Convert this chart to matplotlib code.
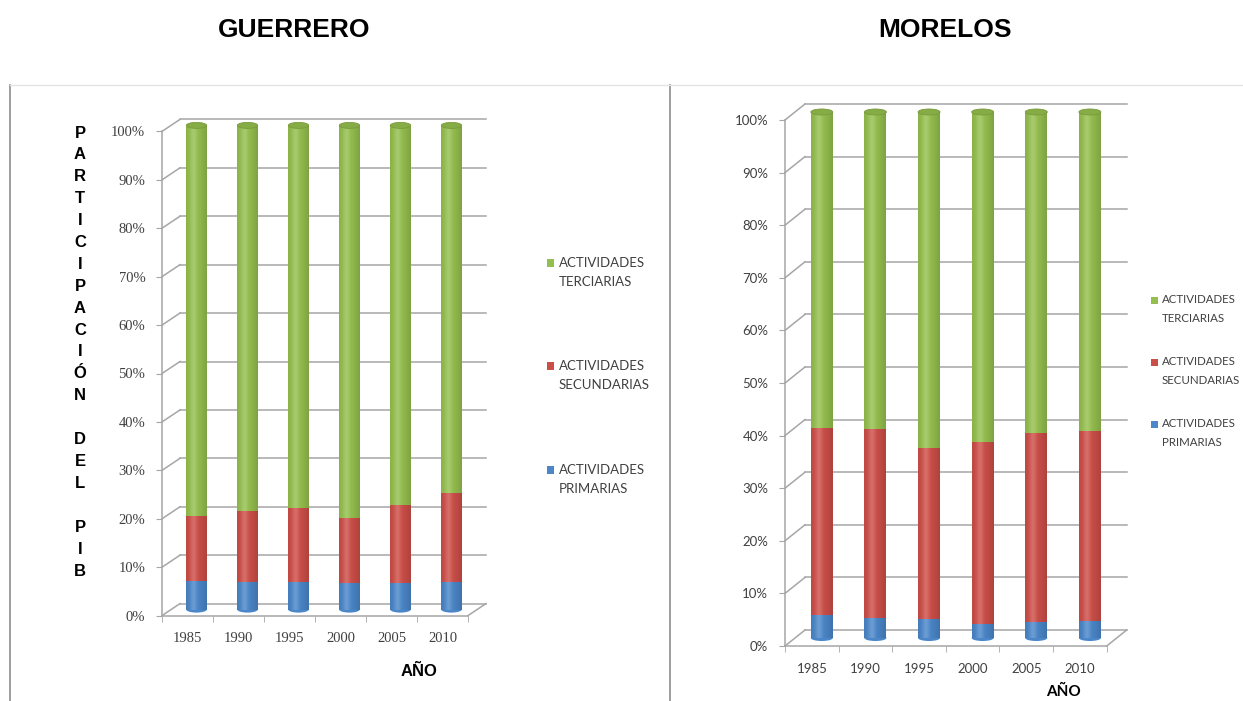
"""Participación del PIB por sector: Guerrero y Morelos (1985-2010)."""
import numpy as np
import matplotlib.pyplot as plt
from matplotlib.container import BarContainer
from matplotlib.legend_handler import HandlerPatch, update_from_first_child
from matplotlib.lines import Line2D
from matplotlib.patches import Ellipse, Rectangle
from matplotlib.transforms import ScaledTranslation

W, H = 1243, 701

years = ["1985", "1990", "1995", "2000", "2005", "2010"]
sectors = ["ACTIVIDADES\nPRIMARIAS", "ACTIVIDADES\nSECUNDARIAS", "ACTIVIDADES\nTERCIARIAS"]

# porcentajes
guerrero_primarias = [5.9, 5.7, 5.7, 5.5, 5.5, 5.8]
guerrero_secundarias = [13.4, 14.7, 15.2, 13.4, 16.0, 18.3]
guerrero_terciarias = [80.7, 79.6, 79.1, 81.1, 78.5, 75.9]

morelos_primarias = [4.3, 3.8, 3.7, 2.7, 3.0, 3.2]
morelos_secundarias = [35.6, 35.9, 32.4, 34.6, 35.9, 36.1]
morelos_terciarias = [60.1, 60.3, 63.9, 62.7, 61.1, 60.7]

colors = ["#4A86C8", "#CC4E48", "#94BE4E"]
cap_color = "#86AC45"
grid_color = "#a6a6a6"
text_color = "#404040"


def px_rect(left, top, width, height):
    return [left / W, 1 - (top + height) / H, width / W, height / H]


def cylinder_shade(ax, bar, transform):
    x0, y0 = bar.get_x(), bar.get_y()
    w, h = bar.get_width(), bar.get_height()
    t = np.linspace(0, 1, 64)
    shade = np.zeros((1, t.size, 4))
    shade[0, :, 3] = 0.32 * np.abs(t - 0.38) ** 1.6
    im = ax.imshow(shade, extent=(x0, x0 + w, y0, y0 + h), aspect="auto",
                   transform=transform, interpolation="bilinear", zorder=3)
    im.set_clip_path(bar)
    light = np.ones((1, t.size, 4))
    light[0, :, 3] = 0.18 * np.exp(-((t - 0.36) / 0.16) ** 2)
    im2 = ax.imshow(light, extent=(x0, x0 + w, y0, y0 + h), aspect="auto",
                    transform=transform, interpolation="bilinear", zorder=3)
    im2.set_clip_path(bar)


def raised_square(lift):
    def make(legend, orig_handle, xdescent, ydescent, width, height, fontsize):
        return Rectangle((-xdescent, -ydescent + lift * fontsize), width, height)
    return make


def draw_panel(fig, rect, depth, series, tick_font, tick_size, bar_width):
    left, top, width, height = rect
    ax = fig.add_axes(px_rect(left, top, width, height))
    n = len(years)
    x = np.arange(n)
    dxd = depth[0] / (width / n)
    dyd = depth[1] / (height / 100)

    # back wall gridlines and floor
    for v in range(0, 101, 10):
        ax.plot([-0.5, -0.5 + dxd], [v, v + dyd], color=grid_color, lw=1.1,
                clip_on=False, zorder=1)
        ax.plot([-0.5 + dxd, n - 0.5 + dxd], [v + dyd, v + dyd], color=grid_color,
                lw=1.1, clip_on=False, zorder=1)
    ax.plot([n - 0.5, n - 0.5 + dxd], [0, dyd], color=grid_color, lw=1.1,
            clip_on=False, zorder=1)

    shift = ScaledTranslation(depth[0] / 2 / 100, depth[1] / 2 / 100, fig.dpi_scale_trans)
    tr = ax.transData + shift
    bottom = np.zeros(n)
    handles = []
    for vals, color in zip(series, colors):
        bars = ax.bar(x, vals, bar_width, bottom=bottom, color=color, zorder=2,
                      clip_on=False)
        for b in bars:
            b.set_transform(tr)
        handles.append(bars)
        bottom = bottom + np.asarray(vals)
    for bars in handles:
        for b in bars:
            cylinder_shade(ax, b, tr)

    # cylinder ends
    cap_h = 6 / (height / 100)
    for xi, top_val in zip(x, bottom):
        cap = Ellipse((xi, top_val), bar_width, cap_h, facecolor=cap_color,
                      edgecolor="#7a9a3e", lw=0.6, transform=tr, zorder=4, clip_on=False)
        ax.add_patch(cap)
        foot = Ellipse((xi, 0), bar_width, cap_h, facecolor=colors[0],
                       edgecolor="none", transform=tr, zorder=1.9, clip_on=False)
        ax.add_patch(foot)

    ax.set_xlim(-0.5, n - 0.5)
    ax.set_ylim(0, 100)
    ax.set_yticks(range(0, 101, 10))
    ax.set_yticklabels([f"{v}%" for v in range(0, 101, 10)], fontfamily=tick_font,
                       fontsize=tick_size, color=text_color)
    ax.set_xticks(x)
    ax.set_xticklabels(years, fontfamily=tick_font, fontsize=tick_size, color=text_color)
    ax.set_xticks(np.arange(-0.5, n, 1), minor=True)
    ax.tick_params(axis="x", which="major", length=0, pad=12)
    ax.tick_params(axis="x", which="minor", length=4, color=grid_color)
    ax.tick_params(axis="y", length=4, color=grid_color, pad=8)
    for side in ("top", "right"):
        ax.spines[side].set_visible(False)
    for side in ("left", "bottom"):
        ax.spines[side].set_color(grid_color)
        ax.spines[side].set_linewidth(1.1)
    ax.set_facecolor("none")
    return ax, handles


def add_legend(fig, handles, anchor, size, spacing, linespacing, lift):
    leg = fig.legend(handles[::-1], sectors[::-1], loc="upper left",
                     bbox_to_anchor=(anchor[0] / W, 1 - anchor[1] / H), frameon=False,
                     prop={"family": "Lato", "size": size}, labelcolor=text_color,
                     handlelength=0.55, handleheight=0.55, handletextpad=0.35,
                     labelspacing=spacing,
                     handler_map={BarContainer: HandlerPatch(
                         patch_func=raised_square(lift),
                         update_func=update_from_first_child)})
    for t in leg.get_texts():
        t.set_linespacing(linespacing)
    return leg


fig = plt.figure(figsize=(W / 100, H / 100), dpi=100)

# frames
fig.add_artist(Line2D([10 / W, 10 / W], [0, 1 - 85 / H], color="#8c8c8c", lw=1.2))
fig.add_artist(Line2D([670 / W, 670 / W], [0, 1 - 85 / H], color="#8c8c8c", lw=1.2))
fig.add_artist(Line2D([10 / W, 1], [1 - 85 / H, 1 - 85 / H], color="#e4e4e4", lw=1.0))

fig.text(294 / W, 1 - 30 / H, "GUERRERO", ha="center", va="center", fontsize=19,
         fontweight="bold", family="Liberation Sans")
fig.text(945 / W, 1 - 30 / H, "MORELOS", ha="center", va="center", fontsize=19,
         fontweight="bold", family="Liberation Sans")

ax1, h1 = draw_panel(fig, (162, 131.4, 306, 484.2), (18, 12),
                     [guerrero_primarias, guerrero_secundarias, guerrero_terciarias],
                     "Liberation Serif", 10.5, 0.40)
ax2, h2 = draw_panel(fig, (785, 120, 321.7, 526), (20, 16),
                     [morelos_primarias, morelos_secundarias, morelos_terciarias],
                     "Lato", 9.5, 0.41)

# vertical axis title, letter by letter
ylabel = "PARTICIPACIÓN DEL PIB"
for i, ch in enumerate(ylabel):
    fig.text(80 / W, 1 - (133 + 21.9 * i) / H, ch, ha="center", va="center",
             fontsize=12, fontweight="bold", family="Liberation Sans")

fig.text(419 / W, 1 - 671 / H, "AÑO", ha="center", va="center", fontsize=12,
         fontweight="bold", family="Liberation Sans")
fig.text(1063 / W, 1 - 692 / H, "AÑO", ha="center", va="center", fontsize=11,
         fontweight="bold", family="Lato")

add_legend(fig, h1, (535, 245), 9.5, 5.5, 1.7, 0.75)
add_legend(fig, h2, (1141, 284), 8.3, 2.75, 1.9, 0.8)

fig.savefig("out.png", dpi=100)
